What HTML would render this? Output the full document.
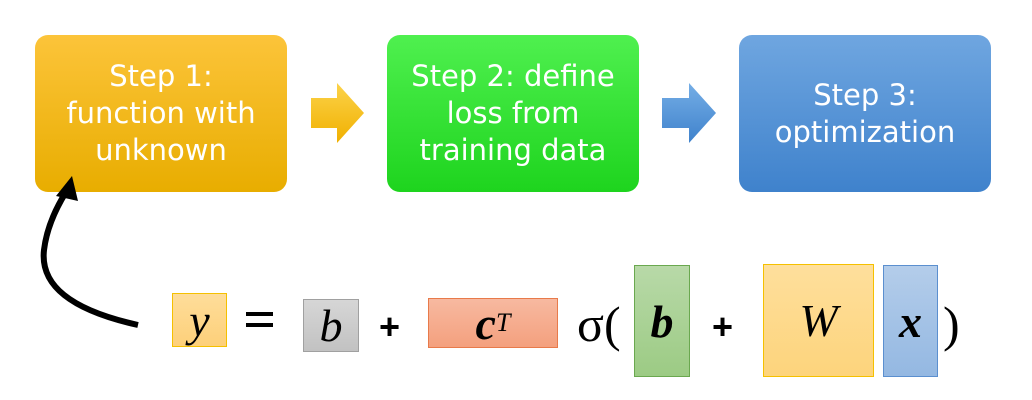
<!DOCTYPE html>
<html><head><meta charset="utf-8"><style>
body{margin:0;width:1032px;height:400px;background:#fff;overflow:hidden;position:relative;font-family:"Liberation Sans",sans-serif}
.step{position:absolute;top:35px;width:252px;height:157px;border-radius:13px;color:#fff;font-family:"DejaVu Sans","Liberation Sans",sans-serif;font-size:29px;line-height:37px;display:flex;align-items:center;justify-content:center;text-align:center}
.b{position:absolute;box-sizing:border-box}
.m{position:absolute;font-family:"Liberation Serif",serif;font-style:italic;font-size:46px;color:#000;display:flex;align-items:center;justify-content:center}
.op{position:absolute;font-family:"Liberation Sans",sans-serif;font-size:36px;font-weight:bold}
</style></head><body>
<div class="step" style="left:35px;background:linear-gradient(#fcc43a,#e8ad00)">Step 1:<br>function with<br>unknown</div>
<div class="step" style="left:387px;background:linear-gradient(#4ff04f,#1ed41e)">Step 2: define<br>loss from<br>training data</div>
<div class="step" style="left:739px;background:linear-gradient(#6fa6e0,#3f82cc)">Step 3:<br>optimization</div>
<svg width="1032" height="400" style="position:absolute;left:0;top:0">
<defs><linearGradient id="go" x1="0" y1="0" x2="0" y2="1"><stop offset="0" stop-color="#fcd34a"/><stop offset="1" stop-color="#f0b000"/></linearGradient>
<linearGradient id="gb" x1="0" y1="0" x2="0" y2="1"><stop offset="0" stop-color="#75aee6"/><stop offset="1" stop-color="#3f82cc"/></linearGradient></defs>
<polygon points="311,98 337,98 337,83 364,113 337,143 337,128 311,128" fill="url(#go)"/>
<polygon points="662,98 689,98 689,83 716,113 689,143 689,128 662,128" fill="url(#gb)"/>
<path d="M138,325 C70,310 40,285 44,250 C47,225 58,205 66,192" fill="none" stroke="#000" stroke-width="6"/>
<polygon points="72,176 56,196 78,201" fill="#000"/>
</svg>
<div class="b m" style="left:172px;top:293px;width:55px;height:54px;background:linear-gradient(#fedd9a,#fdd07a);border:1px solid #f5c000">y</div>
<svg width="30" height="20" style="position:absolute;left:246px;top:310px"><rect x="0" y="2" width="27" height="4" fill="#000"/><rect x="0" y="13" width="27" height="4" fill="#000"/></svg>
<div class="b m" style="left:303px;top:299px;width:56px;height:53px;background:linear-gradient(#d6d6d6,#c2c2c2);border:1px solid #a0a0a0">b</div>
<div class="op" style="left:379px;top:306px">+</div>
<div class="b m" style="left:428px;top:298px;width:130px;height:50px;background:linear-gradient(#f7b9a0,#f4a07e);border:1px solid #e87a4a;font-weight:bold">c<sup style="font-size:26px;font-weight:normal">T</sup></div>
<div class="m" style="left:577px;top:294px;height:60px;font-style:normal;font-size:50px">σ(</div>
<div class="b m" style="left:634px;top:265px;width:56px;height:112px;background:linear-gradient(#b8d9a8,#9ccb84);border:1px solid #6aa84f;font-weight:bold">b</div>
<div class="op" style="left:712px;top:306px">+</div>
<div class="b m" style="left:763px;top:264px;width:111px;height:113px;background:linear-gradient(#fedf9c,#fdd47c);border:1px solid #f5c000">W</div>
<div class="b m" style="left:883px;top:265px;width:55px;height:112px;background:linear-gradient(#b4cdea,#94b8e2);border:1px solid #5b8fcf;font-weight:bold">x</div>
<div class="m" style="left:943px;top:294px;height:60px;font-style:normal;font-size:50px">)</div>
</body></html>
